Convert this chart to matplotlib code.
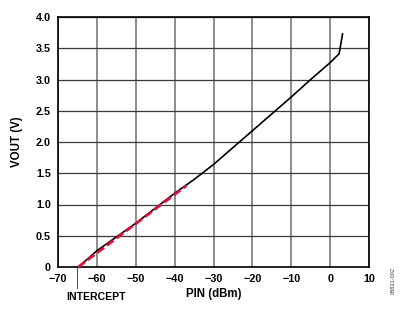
import matplotlib
matplotlib.use("Agg")
import matplotlib.pyplot as plt
import matplotlib.transforms as mtransforms

plt.rcParams['font.family'] = ['Liberation Sans', 'DejaVu Sans']

# measured curve
pin = [-64, -60, -55, -50, -45, -40, -35, -30, -25, -20, -15, -10, -5, 0, 2.3, 3.2]
vout = [0.04, 0.26, 0.48, 0.70, 0.94, 1.18, 1.40, 1.64, 1.91, 2.18, 2.45, 2.72, 3.00, 3.27, 3.41, 3.73]

# linear fit (red dashed)
fit_pin = [-64.8, -37]
fit_vout = [0.0, 1.30]

intercept = -65
xticks = [-70, -60, -50, -40, -30, -20, -10, 0, 10]
xtick_labels = ['\u221270', '\u221260', '\u221250', '\u221240', '\u221230', '\u221220', '\u221210', '0', '10']
yticks = [0, 0.5, 1.0, 1.5, 2.0, 2.5, 3.0, 3.5, 4.0]
ytick_labels = ['0', '0.5', '1.0', '1.5', '2.0', '2.5', '3.0', '3.5', '4.0']

fig = plt.figure(figsize=(4.15, 3.15), dpi=100)
ax = fig.add_axes([58/415, 48/315, 311/415, 250/315])
ax.set_xlim(-70, 10)
ax.set_ylim(0, 4)

for x in xticks:
    ax.axvline(x, color='#7a7a7a', lw=1.2, zorder=1)
for y in yticks:
    ax.axhline(y, color='#3a3a3a', lw=0.9, zorder=1)

ax.plot(pin, vout, color='black', lw=1.2, zorder=3)
ax.plot(fit_pin, fit_vout, color='#d8143c', lw=2.0, dashes=(3.0, 1.3), zorder=4)

ax.set_xticks(xticks)
ax.set_xticklabels(xtick_labels)
ax.set_yticks(yticks)
ax.set_yticklabels(ytick_labels)
ax.tick_params(length=0, labelsize=7.8, pad=5)
for lab in ax.get_xticklabels() + ax.get_yticklabels():
    lab.set_fontweight('bold')

for s in ax.spines.values():
    s.set_linewidth(1.2)
    s.set_color('black')

ax.set_xlabel('PIN (dBm)', fontsize=8.3, fontweight='bold', labelpad=3)
ax.set_ylabel('VOUT (V)', fontsize=8.3, fontweight='bold', labelpad=9)

# intercept pointer
trans = mtransforms.blended_transform_factory(ax.transData, ax.transAxes)
ax.plot([intercept, intercept], [0, -0.085], transform=trans, color='#555555',
        lw=0.8, clip_on=False)
ax.text(-60.3, -0.1, 'INTERCEPT', transform=trans, ha='center', va='top',
        fontsize=7.6, fontweight='bold')

fig.text(393/415, 1 - 281/315, '08831-002', rotation=90, ha='center', va='center',
         fontsize=4, color='#333333')

fig.savefig('out.png', dpi=100)
